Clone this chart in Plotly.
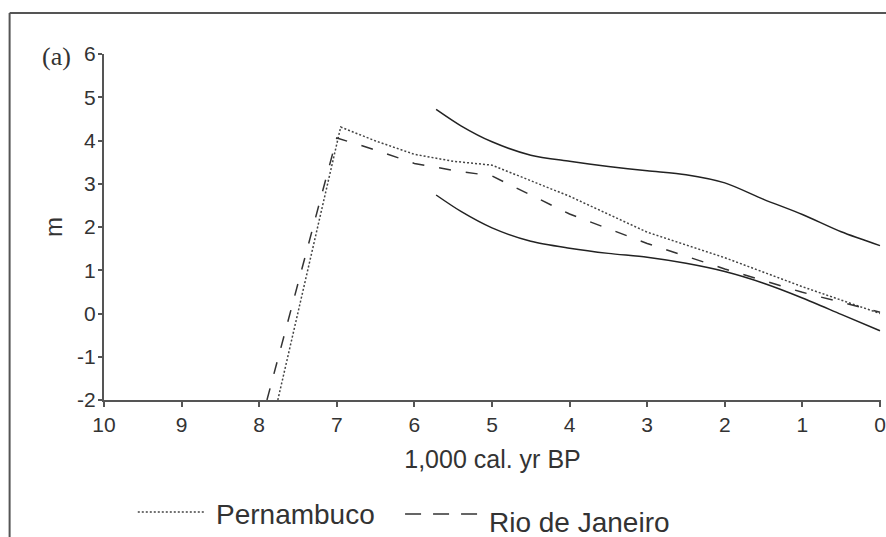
import plotly.graph_objects as go

# Axis ticks
age_ticks = list(range(10, -1, -1))
m_ticks = list(range(-2, 7))

# Envelope curves (thousand cal. yr BP, m)
env_age = [5.72, 5.4, 5.0, 4.5, 4.0, 3.5, 3.0, 2.5, 2.0, 1.5, 1.0, 0.5, 0.0]
env_upper = [4.72, 4.34, 3.97, 3.66, 3.52, 3.40, 3.30, 3.21, 3.02, 2.64, 2.29, 1.89, 1.57]
env_lower = [2.74, 2.36, 1.98, 1.67, 1.51, 1.39, 1.30, 1.16, 0.97, 0.70, 0.36, -0.02, -0.40]

# Sea-level curves
pern_age = [7.76, 6.95, 6.5, 6.0, 5.5, 5.0, 4.0, 3.0, 2.0, 1.0, 0.0]
pern_m = [-2.0, 4.31, 3.99, 3.68, 3.52, 3.43, 2.71, 1.88, 1.29, 0.62, 0.0]
rio_age = [7.90, 7.0, 6.5, 6.0, 5.5, 5.0, 4.0, 3.0, 2.0, 1.0, 0.0]
rio_m = [-2.0, 4.06, 3.78, 3.47, 3.31, 3.18, 2.30, 1.62, 1.03, 0.49, 0.03]

W, H = 886, 537
L, R, T, B = 104, 0, 54, 137
PW = W - L - R
PH = H - T - B


def px_x(px):
    return (px - L) / PW


def px_y(py):
    return (H - B - py) / PH


FONT = "Liberation Sans, Arial, sans-serif"
SERIF = "Liberation Serif, Times New Roman, serif"
AX = "#555555"
TXT = "#333333"
DOT = "2px,2px"
DASH = "12px,15px"

fig = go.Figure()
for ys in (env_upper, env_lower):
    fig.add_trace(go.Scatter(
        x=env_age, y=ys, mode="lines", showlegend=False, hoverinfo="skip",
        line=dict(color="#222222", width=1.5, shape="spline", smoothing=0.8)))
fig.add_trace(go.Scatter(
    x=pern_age, y=pern_m, mode="lines", name="Pernambuco", showlegend=False,
    line=dict(color="#444444", width=1.5, dash=DOT)))
fig.add_trace(go.Scatter(
    x=rio_age, y=rio_m, mode="lines", name="Rio de Janeiro", showlegend=False,
    line=dict(color="#333333", width=1.5, dash=DASH)))

axis_common = dict(
    showline=True, linecolor=AX, linewidth=2, ticks="outside", tickcolor=AX,
    tickwidth=1.5, showgrid=False, zeroline=False,
    tickfont=dict(family=FONT, size=21, color=TXT),
)
fig.update_xaxes(
    range=[10, -0.013], tickvals=age_ticks, ticktext=[str(v) for v in age_ticks],
    ticklen=5, ticklabeloverflow="allow",
    title=dict(text="1,000 cal. yr BP", font=dict(family=FONT, size=25, color=TXT), standoff=15),
    **axis_common)
fig.update_yaxes(
    range=[-2, 6], tickvals=m_ticks, ticktext=[str(v) for v in m_ticks],
    ticklen=4, ticklabelstandoff=-2,
    title=dict(text="m", font=dict(family=FONT, size=24, color=TXT), standoff=8),
    **axis_common)

shapes = [
    # outer frame (left and top edges)
    dict(type="line", xref="paper", yref="paper", x0=px_x(9), x1=px_x(9),
         y0=px_y(13), y1=px_y(H + 20), line=dict(color=AX, width=2)),
    dict(type="line", xref="paper", yref="paper", x0=px_x(9), x1=px_x(W + 20),
         y0=px_y(13), y1=px_y(13), line=dict(color=AX, width=2)),
    # legend samples
    dict(type="line", xref="paper", yref="paper", x0=px_x(138), x1=px_x(205),
         y0=px_y(512), y1=px_y(512), line=dict(color="#444444", width=1.5, dash=DOT)),
    dict(type="line", xref="paper", yref="paper", x0=px_x(407), x1=px_x(480),
         y0=px_y(514), y1=px_y(514), line=dict(color="#333333", width=1.5, dash="16px,12px")),
]

annotations = [
    dict(text="(a)", xref="paper", yref="paper", x=px_x(56), y=px_y(57),
         showarrow=False, xanchor="center", yanchor="middle",
         font=dict(family=SERIF, size=26, color=TXT)),
    dict(text="Pernambuco", xref="paper", yref="paper", x=px_x(215), y=px_y(514),
         showarrow=False, xanchor="left", yanchor="middle",
         font=dict(family=FONT, size=28, color=TXT)),
    dict(text="Rio de Janeiro", xref="paper", yref="paper", x=px_x(489), y=px_y(522),
         showarrow=False, xanchor="left", yanchor="middle",
         font=dict(family=FONT, size=28, color=TXT)),
]

fig.update_layout(
    width=W, height=H, margin=dict(l=L, r=R, t=T, b=B),
    paper_bgcolor="white", plot_bgcolor="white",
    shapes=shapes, annotations=annotations, showlegend=False,
)

fig.write_html("out.html")
